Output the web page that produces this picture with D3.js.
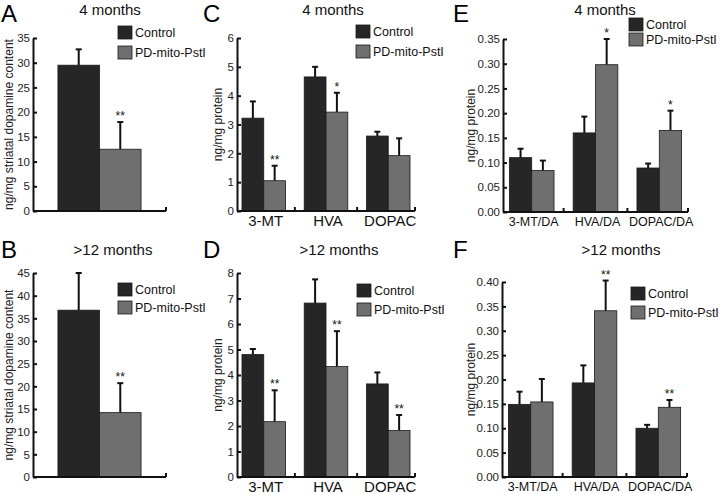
<!DOCTYPE html>
<head>
  <meta charset="utf-8">
  <script src="https://d3js.org/d3.v7.min.js"></script>
  <style>
    body { margin:0; background:#fff; }
    svg { font-family: "Liberation Sans", Arial, sans-serif; }
  </style>
</head>
<body>
<script type='text/javascript'>
  // series names
  var seriesNames = ["Control", "PD-mito-PstI"];

  // A: striatal dopamine, 4 months
  var aCats = [""];
  var aControl = [29.5], aControlErr = [3.2];
  var aPd = [12.5], aPdErr = [5.5];
  var aStars = ["**"];
  var aTicks = [0, 5, 10, 15, 20, 25, 30, 35];

  // B: striatal dopamine, >12 months
  var bCats = [""];
  var bControl = [36.8], bControlErr = [8.2];
  var bPd = [14.2], bPdErr = [6.5];
  var bStars = ["**"];
  var bTicks = [0, 5, 10, 15, 20, 25, 30, 35, 40, 45];

  // C: metabolites, 4 months
  var cCats = ["3-MT", "HVA", "DOPAC"];
  var cControl = [3.22, 4.65, 2.60], cControlErr = [0.58, 0.35, 0.15];
  var cPd = [1.05, 3.43, 1.92], cPdErr = [0.52, 0.67, 0.60];
  var cStars = ["**", "*", ""];
  var cTicks = [0, 1, 2, 3, 4, 5, 6];

  // D: metabolites, >12 months
  var dCats = ["3-MT", "HVA", "DOPAC"];
  var dControl = [4.80, 6.82, 3.65], dControlErr = [0.22, 0.93, 0.45];
  var dPd = [2.17, 4.33, 1.82], dPdErr = [1.23, 1.39, 0.61];
  var dStars = ["**", "**", "**"];
  var dTicks = [0, 1, 2, 3, 4, 5, 6, 7, 8];

  // E: turnover ratios, 4 months
  var eCats = ["3-MT/DA", "HVA/DA", "DOPAC/DA"];
  var eControl = [0.110, 0.160, 0.089], eControlErr = [0.018, 0.033, 0.009];
  var ePd = [0.084, 0.298, 0.165], ePdErr = [0.020, 0.052, 0.040];
  var eStars = ["", "*", "*"];
  var eTicks = [0, 0.05, 0.10, 0.15, 0.20, 0.25, 0.30, 0.35];

  // F: turnover ratios, >12 months
  var fCats = ["3-MT/DA", "HVA/DA", "DOPAC/DA"];
  var fControl = [0.149, 0.193, 0.100], fControlErr = [0.026, 0.036, 0.007];
  var fPd = [0.154, 0.341, 0.143], fPdErr = [0.047, 0.062, 0.015];
  var fStars = ["", "**", "**"];
  var fTicks = [0, 0.05, 0.10, 0.15, 0.20, 0.25, 0.30, 0.35, 0.40];

  var colors = ["#262626", "#6f6f6f"];

  var svg = d3.select("body").append("svg")
    .attr("width", 720).attr("height", 494);

  function drawPanel(p) {
    var g = svg.append("g");

    var y = d3.scaleLinear()
      .domain([0, d3.max(p.ticks)])
      .range([p.y0, p.y1]);

    var x = d3.scaleBand()
      .domain(p.cats)
      .range([p.axisX, p.xEnd])
      .paddingInner(p.padIn)
      .paddingOuter(p.padOut);

    var xs = d3.scaleBand()
      .domain(seriesNames)
      .range([0, x.bandwidth()]);

    // rows: one per category
    var rows = p.cats.map(function(c, i) {
      return {cat: c, vals: [
        {s: seriesNames[0], v: p.ctrl[i], e: p.ctrlErr[i], star: ""},
        {s: seriesNames[1], v: p.pd[i], e: p.pdErr[i], star: p.stars[i]}
      ]};
    });

    var grp = g.selectAll(".grp").data(rows).enter().append("g")
      .attr("transform", function(d) { return "translate(" + x(d.cat) + ",0)"; });

    var bar = grp.selectAll(".b").data(function(d) { return d.vals; }).enter().append("g");

    // error bars (upper only)
    bar.append("line")
      .attr("x1", function(d) { return xs(d.s) + xs.bandwidth() / 2; })
      .attr("x2", function(d) { return xs(d.s) + xs.bandwidth() / 2; })
      .attr("y1", function(d) { return y(d.v); })
      .attr("y2", function(d) { return y(d.v + d.e); })
      .attr("stroke", "#111").attr("stroke-width", 2);
    bar.append("line")
      .attr("x1", function(d) { return xs(d.s) + xs.bandwidth() / 2 - 3; })
      .attr("x2", function(d) { return xs(d.s) + xs.bandwidth() / 2 + 3; })
      .attr("y1", function(d) { return y(d.v + d.e); })
      .attr("y2", function(d) { return y(d.v + d.e); })
      .attr("stroke", "#111").attr("stroke-width", 2);

    bar.append("rect")
      .attr("x", function(d) { return xs(d.s); })
      .attr("y", function(d) { return y(d.v); })
      .attr("width", xs.bandwidth())
      .attr("height", function(d) { return y(0) - y(d.v); })
      .attr("fill", function(d, i) { return colors[i]; })
      .attr("stroke", "#1a1a1a").attr("stroke-width", 0.8);

    bar.append("text")
      .attr("x", function(d) { return xs(d.s) + xs.bandwidth() / 2; })
      .attr("y", function(d) { return y(d.v + d.e) - 2; })
      .attr("text-anchor", "middle")
      .attr("font-size", 12)
      .attr("fill", "#111")
      .text(function(d) { return d.star; });

    // y axis, ticks pointing inward
    var yAxis = d3.axisLeft(y)
      .tickValues(p.ticks)
      .tickFormat(p.fmt)
      .tickSizeInner(-4)
      .tickSizeOuter(0)
      .tickPadding(3);
    var ya = g.append("g")
      .attr("transform", "translate(" + p.axisX + ",0)")
      .call(yAxis);
    ya.select(".domain").attr("stroke", "#111").attr("stroke-width", 2);
    ya.selectAll(".tick line").attr("stroke", "#111").attr("stroke-width", 2);
    ya.selectAll("text").attr("font-size", 11.5).attr("fill", "#222")
      .attr("font-family", "Liberation Sans, Arial, sans-serif");

    // x axis line with small upward ticks between groups and at the end
    var y0 = y(0);
    g.append("line")
      .attr("x1", p.axisX).attr("x2", p.xEnd)
      .attr("y1", y0).attr("y2", y0)
      .attr("stroke", "#111").attr("stroke-width", 2);
    var sepX = p.cats.slice(0, -1).map(function(c) {
      return x(c) + x.bandwidth() + x.step() * x.paddingInner() / 2;
    });
    sepX.push(p.xEnd);
    g.selectAll(".sep").data(sepX).enter().append("line")
      .attr("x1", function(d) { return d; }).attr("x2", function(d) { return d; })
      .attr("y1", y0).attr("y2", y0 - 4)
      .attr("stroke", "#111").attr("stroke-width", 2);

    // category labels
    g.selectAll(".cat").data(p.cats).enter().append("text")
      .attr("x", function(d) { return x(d) + x.bandwidth() / 2 + 2; })
      .attr("y", y0 + p.catDy)
      .attr("text-anchor", "middle")
      .attr("font-size", p.catSize)
      .attr("fill", "#111")
      .text(function(d) { return d; });

    // y label
    g.append("text")
      .attr("transform", "translate(" + p.yLabelX + "," + ((p.y0 + p.y1) / 2) + ") rotate(-90)")
      .attr("text-anchor", "middle")
      .attr("font-size", 12)
      .attr("fill", "#222")
      .text(p.yLabel);

    // title and panel letter
    g.append("text")
      .attr("x", p.titleX).attr("y", p.titleY)
      .attr("text-anchor", "middle")
      .attr("font-size", 15)
      .attr("fill", "#111")
      .text(p.title);
    g.append("text")
      .attr("x", p.letterX).attr("y", p.letterY)
      .attr("font-size", 24)
      .attr("fill", "#000")
      .text(p.letter);

    // legend
    var lg = g.selectAll(".lg").data(seriesNames).enter().append("g")
      .attr("transform", function(d, i) {
        return "translate(" + p.legX + "," + (p.legY + i * p.legGap) + ")";
      });
    lg.append("rect")
      .attr("width", 14).attr("height", 13)
      .attr("fill", function(d, i) { return colors[i]; })
      .attr("stroke", "#1a1a1a").attr("stroke-width", 0.8);
    lg.append("text")
      .attr("x", 17).attr("y", 11)
      .attr("font-size", 12.5)
      .attr("fill", "#111")
      .text(function(d) { return d; });
  }

  var intFmt = d3.format("d");
  var decFmt = d3.format(".2f");
  var dopLabel = "ng/mg striatal dopamine content";
  var protLabel = "ng/mg protein";

  drawPanel({letter: "A", letterX: 1, letterY: 22, title: "4 months", titleX: 110, titleY: 15,
    cats: aCats, ctrl: aControl, ctrlErr: aControlErr, pd: aPd, pdErr: aPdErr, stars: aStars,
    ticks: aTicks, fmt: intFmt, axisX: 33, xEnd: 166, y0: 211, y1: 38, padIn: 0, padOut: 0.3,
    catDy: 15, catSize: 14, yLabel: dopLabel, yLabelX: 13, legX: 118, legY: 26, legGap: 20});

  drawPanel({letter: "B", letterX: 1, letterY: 258, title: ">12 months", titleX: 113, titleY: 255,
    cats: bCats, ctrl: bControl, ctrlErr: bControlErr, pd: bPd, pdErr: bPdErr, stars: bStars,
    ticks: bTicks, fmt: intFmt, axisX: 33, xEnd: 166, y0: 477, y1: 273, padIn: 0, padOut: 0.3,
    catDy: 15, catSize: 14, yLabel: dopLabel, yLabelX: 13, legX: 118, legY: 283, legGap: 18});

  drawPanel({letter: "C", letterX: 203, letterY: 22, title: "4 months", titleX: 333, titleY: 15,
    cats: cCats, ctrl: cControl, ctrlErr: cControlErr, pd: cPd, pdErr: cPdErr, stars: cStars,
    ticks: cTicks, fmt: intFmt, axisX: 237, xEnd: 415, y0: 211, y1: 38, padIn: 0.3, padOut: 0.08,
    catDy: 15, catSize: 15, yLabel: protLabel, yLabelX: 222, legX: 356, legY: 25, legGap: 20});

  drawPanel({letter: "D", letterX: 203, letterY: 258, title: ">12 months", titleX: 339, titleY: 255,
    cats: dCats, ctrl: dControl, ctrlErr: dControlErr, pd: dPd, pdErr: dPdErr, stars: dStars,
    ticks: dTicks, fmt: intFmt, axisX: 237, xEnd: 415, y0: 477, y1: 273, padIn: 0.3, padOut: 0.08,
    catDy: 15, catSize: 15, yLabel: protLabel, yLabelX: 222, legX: 357, legY: 284, legGap: 19});

  drawPanel({letter: "E", letterX: 453, letterY: 22, title: "4 months", titleX: 605, titleY: 15,
    cats: eCats, ctrl: eControl, ctrlErr: eControlErr, pd: ePd, pdErr: ePdErr, stars: eStars,
    ticks: eTicks, fmt: decFmt, axisX: 503, xEnd: 688, y0: 212, y1: 39, padIn: 0.3, padOut: 0.1,
    catDy: 14, catSize: 12.5, yLabel: protLabel, yLabelX: 475, legX: 629, legY: 18, legGap: 15});

  drawPanel({letter: "F", letterX: 453, letterY: 258, title: ">12 months", titleX: 621, titleY: 255,
    cats: fCats, ctrl: fControl, ctrlErr: fControlErr, pd: fPd, pdErr: fPdErr, stars: fStars,
    ticks: fTicks, fmt: decFmt, axisX: 502, xEnd: 687, y0: 477, y1: 282, padIn: 0.3, padOut: 0.1,
    catDy: 14, catSize: 12.5, yLabel: protLabel, yLabelX: 475, legX: 631, legY: 287, legGap: 19});
</script>
</body>
